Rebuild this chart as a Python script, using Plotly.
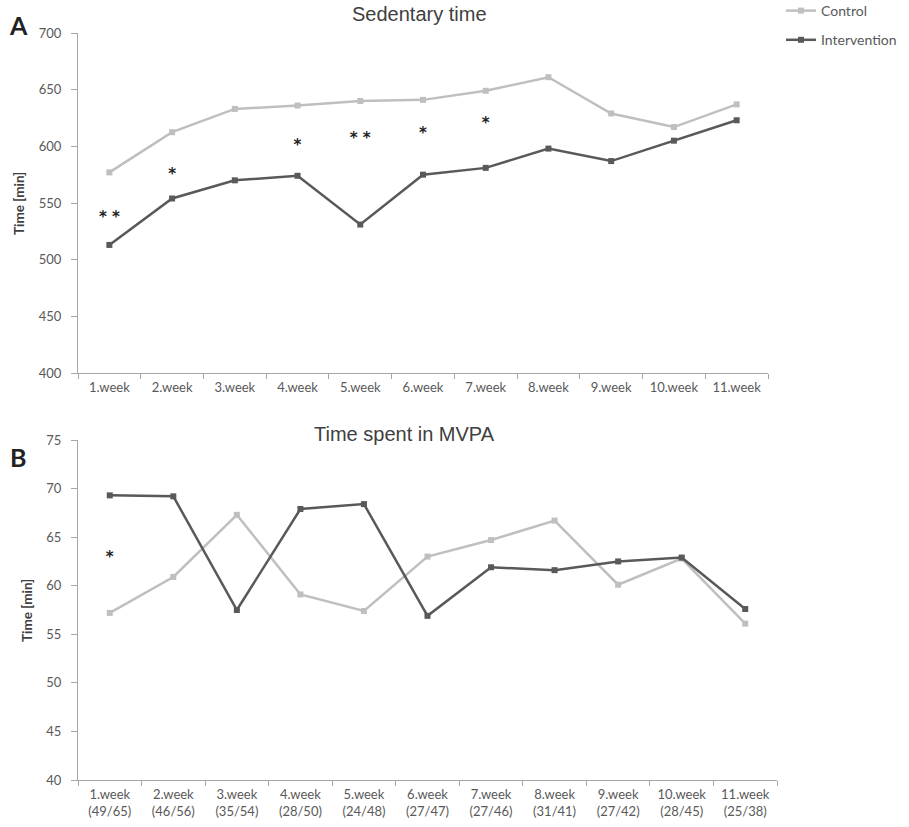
import plotly.graph_objects as go

weeks = ["1.week", "2.week", "3.week", "4.week", "5.week", "6.week",
         "7.week", "8.week", "9.week", "10.week", "11.week"]
mvpa_counts = ["(49/65)", "(46/56)", "(35/54)", "(28/50)", "(24/48)", "(27/47)",
               "(27/46)", "(31/41)", "(27/42)", "(28/45)", "(25/38)"]

sed_control = [577, 612.5, 633, 636, 640, 641, 649, 661, 629, 617, 637]
sed_intervention = [513, 554, 570, 574, 531, 575, 581, 598, 587, 605, 623]

mvpa_control = [57.2, 60.9, 67.3, 59.1, 57.4, 63.0, 64.7, 66.7, 60.1, 62.8, 56.1]
mvpa_intervention = [69.3, 69.2, 57.5, 67.9, 68.4, 56.9, 61.9, 61.6, 62.5, 62.9, 57.6]

sed_sig_weeks = ["1.week", "2.week", "4.week", "5.week", "6.week", "7.week"]
sed_sig_marks = ["* *", "*", "*", "* *", "*", "*"]
sed_sig_y = [543, 581, 607, 612.5, 617, 626]

mvpa_sig_weeks = ["1.week"]
mvpa_sig_marks = ["*"]
mvpa_sig_y = [63.6]

C_CTRL = "#BFBFBF"
C_INT = "#595959"
AX = "#A6A6A6"
TICK_FONT = dict(family="Lato", size=13, color="#595959")
STAR_FONT = dict(family="DejaVu Sans", size=15, color="#222222")

W, H = 909, 827

def px_x(p):
    return p / W

def px_y(p):
    return 1 - p / H

fig = go.Figure()

fig.add_trace(go.Scatter(x=weeks, y=sed_control, mode="lines+markers", name="Control",
                         legendgroup="c", line=dict(color=C_CTRL, width=2.5),
                         marker=dict(symbol="square", size=6, color=C_CTRL),
                         xaxis="x", yaxis="y"))
fig.add_trace(go.Scatter(x=weeks, y=sed_intervention, mode="lines+markers", name="Intervention",
                         legendgroup="i", line=dict(color=C_INT, width=2.5),
                         marker=dict(symbol="square", size=6, color=C_INT),
                         xaxis="x", yaxis="y"))
fig.add_trace(go.Scatter(x=sed_sig_weeks, y=sed_sig_y, mode="text",
                         text=["<b>" + m + "</b>" for m in sed_sig_marks],
                         textfont=STAR_FONT, textposition="bottom center",
                         showlegend=False, xaxis="x", yaxis="y"))

fig.add_trace(go.Scatter(x=weeks, y=mvpa_control, mode="lines+markers", name="Control",
                         showlegend=False, line=dict(color=C_CTRL, width=2.5),
                         marker=dict(symbol="square", size=6, color=C_CTRL),
                         xaxis="x2", yaxis="y2"))
fig.add_trace(go.Scatter(x=weeks, y=mvpa_intervention, mode="lines+markers", name="Intervention",
                         showlegend=False, line=dict(color=C_INT, width=2.5),
                         marker=dict(symbol="square", size=6, color=C_INT),
                         xaxis="x2", yaxis="y2"))
fig.add_trace(go.Scatter(x=mvpa_sig_weeks, y=mvpa_sig_y, mode="text",
                         text=["<b>" + m + "</b>" for m in mvpa_sig_marks],
                         textfont=STAR_FONT, textposition="bottom center",
                         showlegend=False, xaxis="x2", yaxis="y2"))

xcommon = dict(type="category", range=[-0.5, 10.5], tickson="boundaries", ticks="outside",
               ticklen=5, tickcolor=AX, showline=True, linecolor=AX, linewidth=1,
               showgrid=False, zeroline=False, tickfont=TICK_FONT, ticklabelstandoff=2,
               automargin=False)
ycommon = dict(ticks="outside", ticklen=6, tickcolor=AX, showline=True, linecolor=AX,
               linewidth=1, showgrid=False, zeroline=False, tickfont=TICK_FONT,
               ticklabelstandoff=7, automargin=False)

fig.update_layout(
    width=W, height=H,
    margin=dict(l=0, r=0, t=0, b=0, autoexpand=False),
    paper_bgcolor="white", plot_bgcolor="white",
    xaxis=dict(domain=[px_x(78), px_x(768)], anchor="y", **xcommon),
    yaxis=dict(domain=[px_y(373), px_y(33)], anchor="x", range=[400, 700], dtick=50, **ycommon),
    xaxis2=dict(domain=[px_x(78), px_x(777)], anchor="y2",
                tickmode="array", tickvals=weeks,
                ticktext=[w + "<br>" + n for w, n in zip(weeks, mvpa_counts)], **xcommon),
    yaxis2=dict(domain=[px_y(780), px_y(440)], anchor="x2", range=[40, 75], dtick=5, **ycommon),
    showlegend=True,
    legend=dict(x=px_x(781), y=px_y(-5), xanchor="left", yanchor="top",
                font=dict(family="Lato", size=14, color="#595959"),
                traceorder="grouped", tracegroupgap=8, bgcolor="rgba(0,0,0,0)"),
    annotations=[
        dict(text="Sedentary time", x=px_x(419), y=px_y(14), xref="paper", yref="paper",
             showarrow=False, xanchor="center", yanchor="middle",
             font=dict(family="Liberation Sans", size=20, color="#404040")),
        dict(text="Time spent in MVPA", x=px_x(404.5), y=px_y(434), xref="paper", yref="paper",
             showarrow=False, xanchor="center", yanchor="middle",
             font=dict(family="Liberation Sans", size=20, color="#404040")),
        dict(text="<b>Time [min]</b>", x=px_x(19), y=px_y(204), xref="paper", yref="paper",
             showarrow=False, textangle=-90, xanchor="center", yanchor="middle",
             font=dict(family="Lato", size=13.5, color="#404040")),
        dict(text="<b>Time [min]</b>", x=px_x(27), y=px_y(611), xref="paper", yref="paper",
             showarrow=False, textangle=-90, xanchor="center", yanchor="middle",
             font=dict(family="Lato", size=13.5, color="#404040")),
        dict(text="<b>A</b>", x=px_x(18), y=px_y(25), xref="paper", yref="paper",
             showarrow=False, xanchor="center", yanchor="middle",
             font=dict(family="Lato", size=25, color="#222222")),
        dict(text="<b>B</b>", x=px_x(17.5), y=px_y(457), xref="paper", yref="paper",
             showarrow=False, xanchor="center", yanchor="middle",
             font=dict(family="Lato", size=25, color="#222222")),
    ],
)

# remove the browser's default 8px page margin so the figure fills the window exactly
fig.write_html("out.html", config={"displayModeBar": False},
               post_script="document.body.style.margin='0';")
